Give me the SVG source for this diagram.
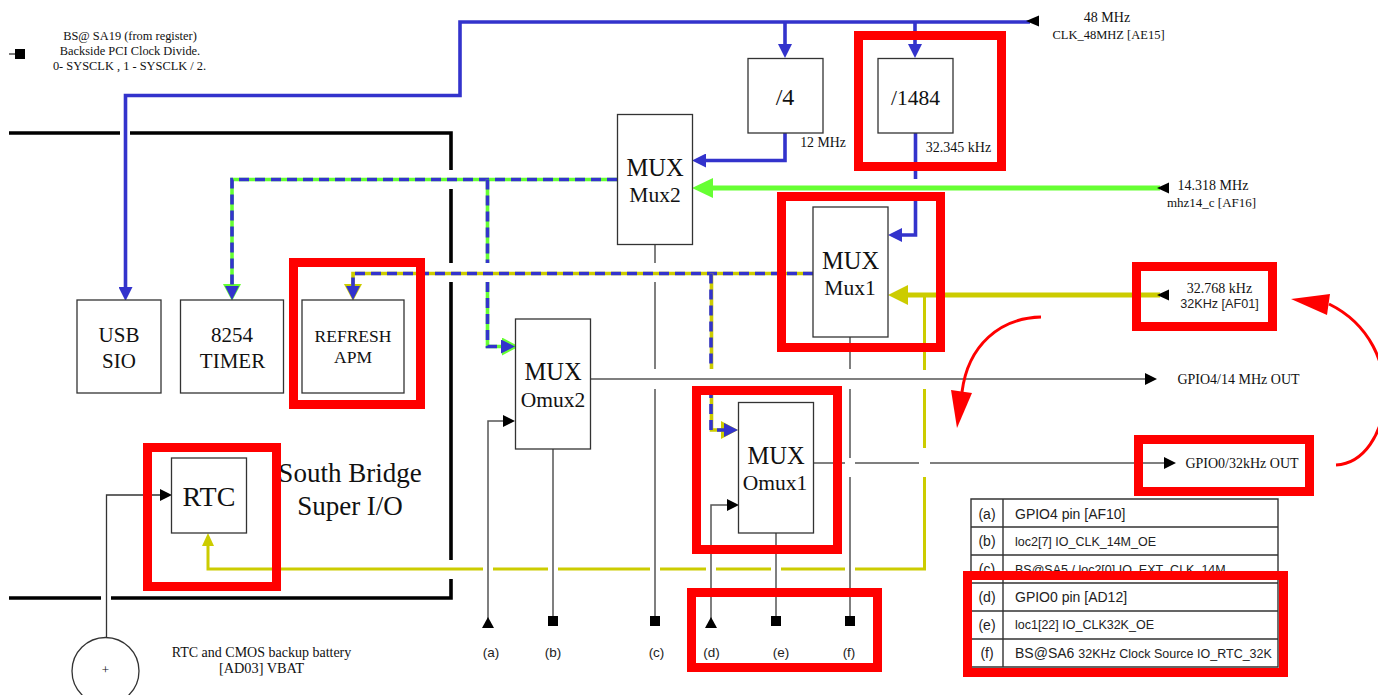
<svg xmlns="http://www.w3.org/2000/svg" width="1378" height="695" viewBox="0 0 1378 695">
<style>
.bg{fill:#fff}
.box{fill:#fff;stroke:#333;stroke-width:1.3}
.s{font-family:"Liberation Serif","Times New Roman",serif;fill:#111;text-anchor:middle}
.a{font-family:"Liberation Sans",Arial,sans-serif;fill:#222}
.m{text-anchor:middle}
.sig{fill:none;stroke:#555;stroke-width:1.5}
.frame{fill:none;stroke:#000;stroke-width:3.6}
.blue{fill:none;stroke:#3333cc;stroke-width:3.6}
.dash{fill:none;stroke:#3333cc;stroke-width:3.6;stroke-dasharray:10 6}
.green{fill:none;stroke:#66ff33;stroke-width:3.6}
.yel{fill:none;stroke:#cccc00;stroke-width:3.6}
.hl{fill:none;stroke:#ff0000;stroke-width:9}
.tb{fill:none;stroke:#333;stroke-width:1.4}
</style>
<defs>
<marker id="aBlack" markerUnits="userSpaceOnUse" markerWidth="12" markerHeight="12" refX="0" refY="6" orient="auto" viewBox="0 0 12 12"><path d="M0 0L12 6L0 12Z" fill="#000"/></marker>
<marker id="aBlue" markerUnits="userSpaceOnUse" markerWidth="14" markerHeight="14" refX="0" refY="7" orient="auto" viewBox="0 0 14 14"><path d="M0 0L14 7L0 14Z" fill="#3333cc"/></marker>
<marker id="aGreenBig" markerUnits="userSpaceOnUse" markerWidth="21" markerHeight="20" refX="0" refY="10" orient="auto" viewBox="0 0 21 20"><path d="M0 0L21 10L0 20Z" fill="#66ff33"/></marker>
<marker id="aYelBig" markerUnits="userSpaceOnUse" markerWidth="20" markerHeight="20" refX="0" refY="10" orient="auto" viewBox="0 0 20 20"><path d="M0 0L20 10L0 20Z" fill="#cccc00"/></marker>
<marker id="aYel" markerUnits="userSpaceOnUse" markerWidth="13" markerHeight="12" refX="0" refY="6" orient="auto" viewBox="0 0 13 12"><path d="M0 0L13 6L0 12Z" fill="#cccc00"/></marker>
<marker id="aYelHalo" markerUnits="userSpaceOnUse" markerWidth="17" markerHeight="18" refX="0" refY="9" orient="auto" viewBox="0 0 17 18"><path d="M0 0L17 9L0 18Z" fill="#cccc00"/></marker>
<marker id="aGreenHalo" markerUnits="userSpaceOnUse" markerWidth="17" markerHeight="18" refX="0" refY="9" orient="auto" viewBox="0 0 17 18"><path d="M0 0L17 9L0 18Z" fill="#66ff33"/></marker>
</defs>
<rect class="bg" width="1378" height="695"/>

<g id="south-bridge-frame">
<path class="frame" d="M9 133H120M130 133H451V170M451 189V263M451 282V560M451 579V598H111M101 598H9"/>
<text class="s" x="350" y="482" font-size="27">South Bridge</text>
<text class="s" x="350" y="515" font-size="27">Super I/O</text>
</g>

<g id="connectors">
<path class="blue" d="M1030 22H460V95.500H125.500V287" marker-end="url(#aBlue)"/>
<path class="blue" d="M785 22V44" marker-end="url(#aBlue)"/>
<path class="blue" d="M915 22V44" marker-end="url(#aBlue)"/>
<path class="blue" d="M785 133V160.500H706" marker-end="url(#aBlue)"/>
<path class="blue" d="M915.500 133V179M915.500 193V235H902" marker-end="url(#aBlue)"/>

<path class="green" d="M617 179.500H232V284" marker-end="url(#aGreenHalo)"/>
<path class="dash" d="M617 179.500H232V286" marker-end="url(#aBlue)"/>
<path class="green" d="M487.500 179.500V263M487.500 282V346.500H502" marker-end="url(#aGreenHalo)"/>
<path class="dash" d="M487.500 179.500V263M487.500 282V346.500H501" marker-end="url(#aBlue)"/>
<path d="M1160 188H713" fill="none" stroke="#66ff33" stroke-width="5" marker-end="url(#aGreenBig)"/>

<path class="yel" d="M813 273.500H353V284" marker-end="url(#aYelHalo)"/>
<path class="dash" d="M813 273.500H353V286" marker-end="url(#aBlue)"/>
<path class="yel" d="M711.500 273.500V369M711.500 388V430H721" marker-end="url(#aYelHalo)"/>
<path class="dash" d="M711 273.500V369M711 388V430H724" marker-end="url(#aBlue)"/>
<path d="M1160 295H908" fill="none" stroke="#cccc00" stroke-width="5" marker-end="url(#aYelBig)"/>
<path d="M924.500 295V370M924.500 389V448M924.500 477V569H855M845 569H781M771 569H716M706 569H660M650 569H558M548 569H493M483 569H208V546" fill="none" stroke="#cccc00" stroke-width="3" marker-end="url(#aYel)"/>

<path class="sig" d="M655 244V263M655 282V369M655 389V620"/>
<path class="sig" d="M850 337V369M850 389V458M850 477V620"/>
<path class="sig" d="M776 533V620"/>
<path class="sig" d="M553 449V620"/>
<path class="sig" d="M488 620V421H503" marker-end="url(#aBlack)"/>
<path class="sig" d="M711 620V505H727" marker-end="url(#aBlack)"/>
<path class="sig" d="M590 379H1145" marker-end="url(#aBlack)"/>
<path class="sig" d="M813 463H845M855 463H919M930 463H1164" marker-end="url(#aBlack)"/>
<path d="M106.500 638V495H160" fill="none" stroke="#333" stroke-width="1.300" marker-end="url(#aBlack)"/>
</g>

<g id="annotation-arrows" fill="#ff0000">
<path d="M1041 317C1000 318 968 345 962 392" fill="none" stroke="#ff0000" stroke-width="3"/>
<path d="M951 390L972 393L957 428Z"/>
<path d="M1336 465C1392 462 1412 345 1329 304" fill="none" stroke="#ff0000" stroke-width="3"/>
<path d="M1291 299L1330 294L1327 315Z"/>
</g>

<g id="note">
<path d="M9 54H16" stroke="#333" stroke-width="1.300"/>
<rect x="15" y="49" width="10" height="10" fill="#000"/>
<text class="s" x="130" y="40" font-size="12.400">BS@ SA19 (from register)</text>
<text class="s" x="130" y="55" font-size="12.400">Backside PCI Clock Divide.</text>
<text class="s" x="129.500" y="70" font-size="12.400">0- SYSCLK , 1 - SYSCLK / 2.</text>
</g>

<g id="in-48mhz">
<path d="M1026 21L1039 15.500V26.500Z" fill="#000"/>
<text class="s" x="1107" y="22" font-size="14">48 MHz</text>
<text class="s" x="1108.500" y="39" font-size="12.500">CLK_48MHZ [AE15]</text>
</g>
<g id="in-14mhz">
<path d="M1157 188L1169 182.500V193.500Z" fill="#000"/>
<text class="s" x="1213" y="190" font-size="14">14.318 MHz</text>
<text class="s" x="1211.500" y="207" font-size="13">mhz14_c [AF16]</text>
</g>
<g id="in-32khz">
<path d="M1157 295L1169 289.500V300.500Z" fill="#000"/>
<text class="s" x="1219.500" y="293" font-size="14">32.768 kHz</text>
<text class="a m" x="1219.500" y="308" font-size="12.600">32KHz [AF01]</text>
</g>

<g id="div4">
<rect class="box" x="748" y="58.500" width="75" height="74.500"/>
<text class="s" x="785" y="105" font-size="24">/4</text>
<text class="s" x="823" y="147" font-size="13.800">12 MHz</text>
</g>
<g id="div1484">
<rect class="box" x="878" y="58.500" width="75" height="74.500"/>
<text class="s" x="915.500" y="105" font-size="21.500">/1484</text>
<text class="s" x="958.500" y="152" font-size="14">32.345 kHz</text>
</g>
<g id="mux2">
<rect class="box" x="617.500" y="114.500" width="75" height="130"/>
<text class="s" x="655" y="176" font-size="24.500">MUX</text>
<text class="s" x="655" y="202" font-size="21.500">Mux2</text>
</g>
<g id="mux1">
<rect class="box" x="813" y="207" width="75" height="130"/>
<text class="s" x="850.500" y="269" font-size="24.500">MUX</text>
<text class="s" x="850" y="295" font-size="21.500">Mux1</text>
</g>
<g id="omux2">
<rect class="box" x="515.500" y="319" width="75" height="130"/>
<text class="s" x="553" y="380" font-size="24.500">MUX</text>
<text class="s" x="553" y="407" font-size="21.500">Omux2</text>
</g>
<g id="omux1">
<rect class="box" x="738.500" y="402.500" width="75" height="130.500"/>
<text class="s" x="776" y="464" font-size="24.500">MUX</text>
<text class="s" x="775" y="490" font-size="21.500">Omux1</text>
</g>
<g id="usb-sio">
<rect class="box" x="77" y="300" width="84" height="93"/>
<text class="s" x="119" y="342" font-size="21">USB</text>
<text class="s" x="119" y="368" font-size="21">SIO</text>
</g>
<g id="timer">
<rect class="box" x="180.500" y="300" width="103" height="93"/>
<text class="s" x="232" y="342" font-size="21">8254</text>
<text class="s" x="232.500" y="368" font-size="21">TIMER</text>
</g>
<g id="refresh-apm">
<rect class="box" x="302" y="300" width="102" height="93"/>
<text class="s" x="353" y="342" font-size="17.500">REFRESH</text>
<text class="s" x="353" y="363" font-size="17.500">APM</text>
</g>
<g id="rtc">
<rect class="box" x="171.500" y="458" width="75" height="75"/>
<text class="s" x="209" y="506" font-size="28">RTC</text>
</g>
<g id="battery">
<circle cx="105.500" cy="671" r="33.500" fill="#fff" stroke="#333" stroke-width="1.300"/>
<text class="s" x="105.500" y="674" font-size="13">+</text>
<text class="s" x="261.500" y="657" font-size="14">RTC and CMOS backup battery</text>
<text class="s" x="261.500" y="673" font-size="14.300">[AD03] VBAT</text>
</g>

<g id="out-gpio4">
<text class="s" x="1238.500" y="384" font-size="14">GPIO4/14 MHz OUT</text>
</g>
<g id="out-gpio0">
<text class="s" x="1242" y="468" font-size="14">GPIO0/32kHz OUT</text>
</g>

<g id="pin-a"><path d="M488 617L494 628H482Z" fill="#000"/><text class="a m" x="491" y="657" font-size="13.500">(a)</text></g>
<g id="pin-b"><rect x="548" y="616" width="10" height="10" fill="#000"/><text class="a m" x="553" y="657" font-size="13.500">(b)</text></g>
<g id="pin-c"><rect x="650" y="616" width="10" height="10" fill="#000"/><text class="a m" x="656.500" y="657" font-size="13.500">(c)</text></g>
<g id="pin-d"><path d="M711 617L717 628H705Z" fill="#000"/><text class="a m" x="711.500" y="657" font-size="13.500">(d)</text></g>
<g id="pin-e"><rect x="771" y="616" width="10" height="10" fill="#000"/><text class="a m" x="781" y="657" font-size="13.500">(e)</text></g>
<g id="pin-f"><rect x="845" y="616" width="10" height="10" fill="#000"/><text class="a m" x="849" y="657" font-size="13.500">(f)</text></g>

<g id="legend-table">
<path class="tb" d="M971 499H1278V667H971ZM1003 499V667M971 527H1278M971 555H1278M971 583H1278M971 611H1278M971 639H1278"/>
<g class="a" font-size="14">
<text class="m" x="987" y="519">(a)</text>
<text class="m" x="987" y="546">(b)</text>
<text class="m" x="987" y="574">(c)</text>
<text class="m" x="987" y="602">(d)</text>
<text class="m" x="987" y="630">(e)</text>
<text class="m" x="987" y="658">(f)</text>
<text x="1015" y="519">GPIO4 pin [AF10]</text>
<text x="1015" y="602">GPIO0 pin [AD12]</text>
<text x="1015" y="658">BS@SA6 <tspan font-size="12.500">32KHz Clock Source IO_RTC_32K</tspan></text>
</g>
<g class="a" font-size="12.500">
<text x="1015" y="546">loc2[7] IO_CLK_14M_OE</text>
<text x="1015" y="574">BS@SA5 / loc2[0] IO_EXT_CLK_14M</text>
<text x="1015" y="629">loc1[22] IO_CLK32K_OE</text>
</g>
</g>

<g id="highlights">
<rect class="hl" x="858.500" y="35.500" width="143" height="131"/>
<rect class="hl" x="781.500" y="196.500" width="159" height="151"/>
<rect class="hl" x="293.500" y="262.500" width="127" height="142"/>
<rect class="hl" x="1136.500" y="266.500" width="136" height="60"/>
<rect class="hl" x="696.500" y="390.500" width="141" height="159"/>
<rect class="hl" x="1138.500" y="439.500" width="171" height="52"/>
<rect class="hl" x="147.500" y="447.500" width="129" height="139"/>
<rect class="hl" x="691.500" y="592.500" width="186" height="75"/>
<rect class="hl" x="967.500" y="575.500" width="316" height="97"/>
</g>
</svg>
